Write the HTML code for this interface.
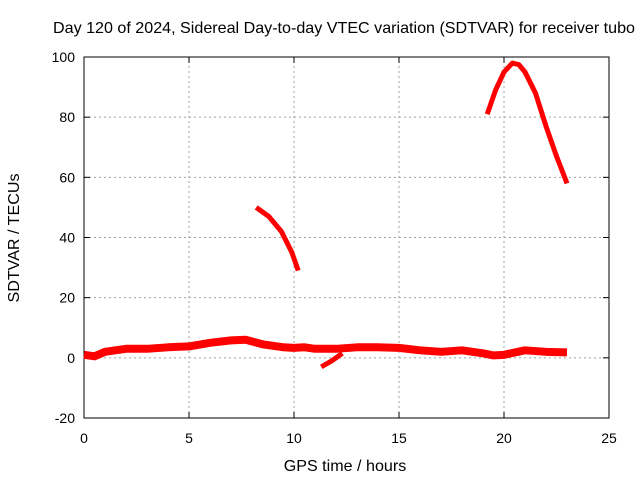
<!DOCTYPE html>
<html><head><meta charset="utf-8"><style>
body{margin:0;background:#fff;}
svg text{font-family:"Liberation Sans",sans-serif;font-size:14px;fill:#000;}
svg text.big{font-size:16.1px;}
</style></head><body>
<svg id="c" width="640" height="480"></svg>
<script>
const xTicks=[0,5,10,15,20,25];
const yTicks=[-20,0,20,40,60,80,100];
const baseHours=[0,0.5,1,2,3,4,5,6,7,7.7,8.5,9.5,10,10.5,11,12,13,14,15,16,17,18,19,19.5,20,21,22,23];
const baseVals=[1,0.5,2,3,3,3.5,3.8,5,5.8,6,4.5,3.5,3.3,3.5,3,3,3.5,3.5,3.3,2.5,2,2.5,1.5,0.8,1,2.5,2,1.8];
const dipHours=[11.3,11.8,12.3];
const dipVals=[-3,-1,1.5];
const seg1Hours=[8.2,8.8,9.4,9.9,10.2];
const seg1Vals=[50,47,42,35,29];
const seg2Hours=[19.2,19.6,20,20.4,20.7,21,21.5,22,22.5,23];
const seg2Vals=[81,89,95,98,97.5,95,88,77,67,58];
const svg=document.getElementById('c');
const NS='http://www.w3.org/2000/svg';
const X0=84,X1=609,Y0=418,Y1=57;
const sx=v=>X0+(v-0)/(25-0)*(X1-X0);
const sy=v=>Y0-(v+20)/(120)*(Y0-Y1);
function mk(t,a){const e=document.createElementNS(NS,t);for(const k in a)e.setAttribute(k,a[k]);svg.appendChild(e);return e;}
xTicks.forEach(t=>{
 if(t>0&&t<25){const g=mk('line',{x1:sx(t),x2:sx(t),y1:Y0,y2:Y1,stroke:'#a0a0a0','stroke-dasharray':'2,3'});
 
 }
 const l=mk('text',{x:sx(t),y:443,'text-anchor':'middle'});l.textContent=t;
 
 
 mk('line',{x1:sx(t),x2:sx(t),y1:Y0,y2:Y0-6,stroke:'#000'});
 mk('line',{x1:sx(t),x2:sx(t),y1:Y1,y2:Y1+6,stroke:'#000'});
});
yTicks.forEach(t=>{
 if(t>-20&&t<100){const g=mk('line',{x1:X0,x2:X1,y1:sy(t),y2:sy(t),stroke:'#a0a0a0','stroke-dasharray':'2,3'});
 
 }
 const l=mk('text',{x:X0-9,y:sy(t)+5,'text-anchor':'end'});l.textContent=t;
 
 
 mk('line',{x1:X0,x2:X0+6,y1:sy(t),y2:sy(t),stroke:'#000'});
 mk('line',{x1:X1,x2:X1-6,y1:sy(t),y2:sy(t),stroke:'#000'});
});
const fr=mk('rect',{x:X0,y:Y1,width:X1-X0,height:Y0-Y1,fill:'none',stroke:'#000'});


function series(h,v,name,w){
 const p=mk('polyline',{points:h.map((x,i)=>sx(x)+','+sy(v[i])).join(' '),fill:'none',stroke:'#ff0000','stroke-width':w,'stroke-linejoin':'round','stroke-linecap':'butt'});
 
 
}
series(baseHours,baseVals,'baseline-series',8);
series(dipHours,dipVals,'dip-series',5);
series(seg1Hours,seg1Vals,'segment-8-10h',5);
series(seg2Hours,seg2Vals,'segment-19-23h',5);
const tt=mk('text',{x:53,y:33,'class':'big'});tt.textContent='Day 120 of 2024, Sidereal Day-to-day VTEC variation (SDTVAR) for receiver tubo';


const xt=mk('text',{x:345,y:471,'text-anchor':'middle','class':'big'});xt.textContent='GPS time / hours';


const yt=mk('text',{x:0,y:0,'text-anchor':'middle','class':'big',transform:'translate(19,238) rotate(-90)'});yt.textContent='SDTVAR / TECUs';


</script>
</body></html>
